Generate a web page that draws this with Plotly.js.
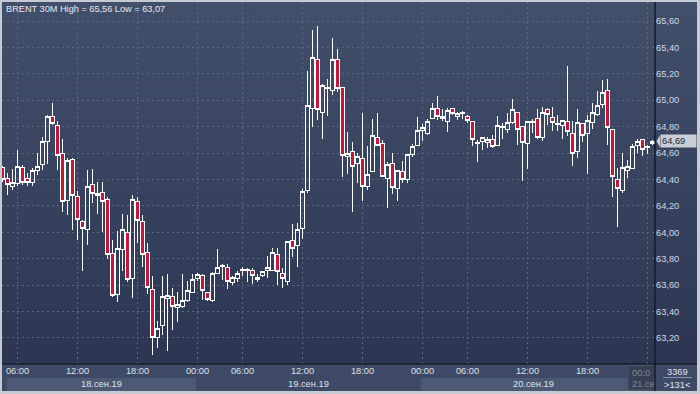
<!DOCTYPE html>
<html>
<head>
<meta charset="utf-8">
<script src="https://cdn.plot.ly/plotly-3.0.1.min.js"></script>
<style>
  html, body { margin:0; padding:0; background:#c6cbd3; }
  #wrap { position:relative; width:700px; height:394px; overflow:hidden; background:#c6cbd3; }
  .bg { position:absolute; }
  #chart { position:absolute; left:0; top:0; width:700px; height:394px; }
  #chart .trace.boxes path { shape-rendering: crispEdges; }
</style>
</head>
<body>
<div id="wrap">
  <div class="bg" style="left:2px;top:2px;width:695px;height:389px;background:#3d4965;"></div>
  <div class="bg" style="left:2px;top:2px;width:653px;height:362px;background:linear-gradient(#424f6b,#2c3652);"></div>
  <div class="bg" style="left:656px;top:2px;width:41px;height:362px;background:linear-gradient(#424f6b,#2c3652);"></div>
  <div id="chart"></div>
</div>
<script>
// BRENT 30M candles (index 0 = 18.09 04:30 ... index 130 = last bar)
const open  = [64.49,64.41,64.35,64.37,64.49,64.41,64.38,64.47,64.51,64.69,
               64.88,64.81,64.60,64.24,64.55,64.27,64.08,64.02,64.36,64.29,
               64.30,64.25,63.84,63.53,63.87,64.00,63.65,64.23,64.08,63.85,
               63.57,63.20,63.29,63.50,63.51,63.43,63.44,63.48,63.54,63.65,
               63.67,63.54,63.48,63.69,63.74,63.73,63.62,63.65,63.71,63.71,
               63.71,63.64,63.67,63.71,63.71,63.83,63.69,63.63,63.94,63.90,
               64.03,64.32,64.94,65.31,64.91,65.09,65.07,65.31,65.10,64.57,
               64.61,64.52,64.56,64.35,64.46,64.72,64.67,64.41,64.52,64.33,
               64.46,64.40,64.59,64.66,64.77,64.75,64.86,64.94,64.86,64.84,
               64.94,64.88,64.90,64.88,64.84,64.68,64.69,64.68,64.70,64.66,
               64.79,64.78,64.83,64.91,64.80,64.67,64.835,64.86,64.72,64.93,
               64.87,64.815,64.81,64.84,64.75,64.61,64.82,64.75,64.83,64.89,
               64.97,65.07,64.78,64.40,64.32,64.47,64.48,64.66,64.70,64.64,
               64.67];
const high  = [64.50,64.45,64.48,64.62,64.51,64.45,64.49,64.60,64.72,64.89,
               64.98,64.84,64.71,64.56,64.56,64.31,64.09,64.47,64.48,64.38,
               64.38,64.27,63.94,64.01,64.14,64.13,64.28,64.27,64.13,63.92,
               63.67,63.33,63.67,63.68,63.58,63.55,63.68,63.63,63.68,63.69,
               63.68,63.54,63.70,63.87,63.76,63.76,63.67,63.71,63.74,63.73,
               63.73,63.68,63.71,63.82,63.88,63.88,63.73,63.93,64.06,64.07,
               64.33,65.22,65.53,65.56,65.12,65.16,65.47,65.39,65.10,64.76,
               64.68,64.60,64.90,64.65,64.86,64.90,64.70,64.53,64.60,64.47,
               64.54,64.59,64.67,64.87,64.82,64.86,64.98,65.03,64.93,64.94,
               64.94,64.91,64.92,64.89,64.84,64.70,64.72,64.72,64.74,64.88,
               64.83,64.90,65.01,64.91,64.80,64.84,64.86,64.93,64.95,64.94,
               64.95,64.89,64.85,65.26,64.84,64.93,64.83,64.89,64.98,65.07,
               65.15,65.16,64.78,64.49,64.60,64.55,64.67,64.71,64.71,64.66,
               64.70];
const low   = [64.38,64.28,64.32,64.35,64.36,64.35,64.35,64.43,64.47,64.52,
               64.81,64.47,64.15,64.13,64.02,63.94,63.71,63.90,64.22,64.14,
               64.00,63.80,63.51,63.47,63.71,63.62,63.50,63.92,63.74,63.53,
               63.07,63.12,63.22,63.10,63.26,63.32,63.43,63.47,63.54,63.63,
               63.49,63.48,63.47,63.68,63.64,63.57,63.60,63.62,63.67,63.62,
               63.61,63.62,63.66,63.65,63.71,63.60,63.58,63.60,63.81,63.74,
               63.95,64.30,64.80,64.85,64.71,64.88,65.04,65.06,64.42,64.44,
               64.15,64.37,64.24,64.32,64.46,64.65,64.42,64.18,64.29,64.24,
               64.37,64.37,64.57,64.66,64.69,64.74,64.86,64.85,64.84,64.76,
               64.89,64.85,64.86,64.83,64.65,64.53,64.62,64.64,64.64,64.66,
               64.71,64.75,64.82,64.66,64.39,64.48,64.75,64.71,64.69,64.81,
               64.77,64.77,64.71,64.73,64.50,64.56,64.68,64.44,64.78,64.88,
               64.94,64.66,64.27,64.04,64.30,64.41,64.48,64.60,64.58,64.59,
               64.66];
const close = [64.40,64.36,64.38,64.50,64.38,64.38,64.47,64.50,64.69,64.88,
               64.82,64.58,64.23,64.54,64.28,64.10,64.03,64.35,64.29,64.28,
               64.23,63.83,63.52,63.88,64.02,63.64,64.25,64.09,63.83,63.58,
               63.20,63.27,63.51,63.52,63.44,63.45,63.48,63.56,63.64,63.68,
               63.56,63.49,63.69,63.73,63.75,63.63,63.66,63.69,63.72,63.72,
               63.67,63.66,63.70,63.73,63.85,63.70,63.65,63.93,63.88,64.02,
               64.31,64.96,65.32,64.93,65.11,65.10,65.31,65.09,64.58,64.60,
               64.50,64.57,64.35,64.44,64.73,64.66,64.42,64.51,64.34,64.47,
               64.40,64.59,64.65,64.77,64.79,64.84,64.94,64.88,64.88,64.92,
               64.90,64.90,64.905,64.85,64.70,64.67,64.72,64.70,64.65,64.81,
               64.80,64.83,64.93,64.78,64.68,64.84,64.84,64.72,64.91,64.89,
               64.83,64.82,64.845,64.76,64.60,64.83,64.73,64.85,64.91,64.96,
               65.06,64.79,64.42,64.33,64.49,64.50,64.65,64.69,64.63,64.65,
               64.69];

// x-axis time ticks (bar index -> label)
const timeTickIdx  = [3, 15, 27, 39, 48, 60, 72, 84, 93, 105, 117, 129];
const timeTickText = ['06:00','12:00','18:00','00:00','06:00','12:00','18:00','00:00','06:00','12:00','18:00',''];
// day bands (bar index where the day starts) and labels
const dayStart  = [-5, 39, 84, 129];
const dayLabels = ['18.сен.19','19.сен.19','20.сен.19','21.сен.19'];
const yTicks = [63.2,63.4,63.6,63.8,64.0,64.2,64.4,64.6,64.8,65.0,65.2,65.4,65.6];
const lastPrice = 64.69;
const title = 'BRENT 30M High = 65,56 Low = 63,07';

const idx = open.map((_, i) => i);
const FONT = 'Liberation Sans, Arial, sans-serif';

// pixel helpers for margin decorations (plot area: x 2..655, y 2..364)
const PL = 2, PR = 655, PT = 2, PB = 364;
const px = x => (x - PL) / (PR - PL);
const py = y => (PB - y) / (PB - PT);

const shapes = [];
const annotations = [];
// date bands
const bandEnds = dayStart.slice(1).concat([140]);
dayStart.forEach((s, k) => {
  if (k % 2 === 0) {
    shapes.push({type:'rect', xref:'x', yref:'paper', x0: Math.max(s - 0.3, 0.85), x1: bandEnds[k] - 0.3,
      y0: py(391), y1: py(378), fillcolor:'#4c5975', line:{width:0}, layer:'above'});
  }
});
dayStart.slice(0,3).forEach((s, k) => {
  const a = Math.max(s - 0.3, 0.85), b = bandEnds[k] - 0.3;
  annotations.push({xref:'x', yref:'paper', x:(a + b) / 2, y: py(384), text: dayLabels[k],
    showarrow:false, xanchor:'center', yanchor:'middle', font:{family:FONT, size:9.3, color:'#dde2ea'}});
});
// greyed current-period box
shapes.push({type:'rect', xref:'paper', yref:'paper', x0: px(628), x1: px(655), y0: py(390), y1: py(365.5),
  fillcolor:'#363f54', line:{color:'#4a5468', width:1}, layer:'above'});
annotations.push({xref:'paper', yref:'paper', x: px(630), y: py(372.5), text:'00:0', showarrow:false,
  xanchor:'left', yanchor:'middle', font:{family:FONT, size:9.3, color:'#7b869b'}});
annotations.push({xref:'paper', yref:'paper', x: px(630), y: py(384), text:'21.се', showarrow:false,
  xanchor:'left', yanchor:'middle', font:{family:FONT, size:9.3, color:'#7b869b'}});
// black frame lines continuing into margins
shapes.push({type:'line', xref:'paper', yref:'paper', x0:1, x1:1, y0:py(391), y1:py(2), line:{color:'#0b0e15', width:1.2}});
shapes.push({type:'line', xref:'paper', yref:'paper', x0:0, x1:px(697), y0:0, y1:0, line:{color:'#0b0e15', width:1.2}});
// right panel counter
annotations.push({xref:'paper', yref:'paper', x: px(677), y: py(371.5), text:'3369', showarrow:false,
  xanchor:'center', yanchor:'middle', font:{family:FONT, size:9.3, color:'#e2e6ee'}});
shapes.push({type:'line', xref:'paper', yref:'paper', x0:px(663), x1:px(692), y0:py(377.5), y1:py(377.5), line:{color:'#8a94a8', width:1}});
annotations.push({xref:'paper', yref:'paper', x: px(677), y: py(384.5), text:'&gt;131&lt;', showarrow:false,
  xanchor:'center', yanchor:'middle', font:{family:FONT, size:9.3, color:'#e2e6ee'}});
// last price marker
const halfH = 6 / 132;
shapes.push({type:'path', xref:'paper', yref:'y',
  path:`M ${px(656.5)} ${lastPrice} L ${px(660)} ${lastPrice + halfH} L ${px(660)} ${lastPrice - halfH} Z`,
  fillcolor:'#c9ced6', line:{width:0}});
annotations.push({xref:'paper', yref:'y', x: px(660), y: lastPrice, text: lastPrice.toFixed(2).replace('.', ','),
  showarrow:false, xanchor:'left', yanchor:'middle', align:'left', width:33, height:10, borderpad:1,
  bgcolor:'#c9ced6', font:{family:FONT, size:9.3, color:'#1e2537'}});
// title
annotations.push({xref:'paper', yref:'paper', x: px(4), y: py(9), text: title, showarrow:false,
  xanchor:'left', yanchor:'middle', font:{family:FONT, size:9.2, color:'#e6e9ef'}});

const trace = {
  type:'candlestick', x: idx, open: open, high: high, low: low, close: close,
  increasing:{line:{color:'#ffffff', width:1}, fillcolor:'rgba(0,0,0,0)'},
  decreasing:{line:{color:'#ffffff', width:1}, fillcolor:'#c8163a'},
  whiskerwidth:0, hoverinfo:'skip', showlegend:false
};

const layout = {
  width:700, height:394, autosize:false,
  margin:{l:PL, r:700-PR, t:PT, b:394-PB, pad:0},
  paper_bgcolor:'rgba(0,0,0,0)', plot_bgcolor:'rgba(0,0,0,0)',
  separators:', ',
  boxgap:0.12,
  showlegend:false,
  xaxis:{type:'linear', range:[-0.1,130.5], rangeslider:{visible:false},
    tickmode:'array', tickvals: timeTickIdx, ticktext: timeTickText,
    showgrid:true, gridcolor:'#5b6784', gridwidth:1, griddash:'2px,3px',
    zeroline:false, showline:false, ticks:'',
    tickfont:{family:FONT, size:9.3, color:'#dde2ea'}, fixedrange:true},
  yaxis:{side:'right', range:[63.002,65.744], tickmode:'array', tickvals: yTicks, tickformat:'.2f',
    showgrid:true, gridcolor:'#5b6784', gridwidth:1, griddash:'2px,3px',
    zeroline:false, showline:false, ticks:'',
    tickfont:{family:FONT, size:9.3, color:'#d3d9e3'}, fixedrange:true},
  shapes: shapes,
  annotations: annotations
};

Plotly.newPlot('chart', [trace], layout, {displayModeBar:false, staticPlot:true});
</script>
</body>
</html>
